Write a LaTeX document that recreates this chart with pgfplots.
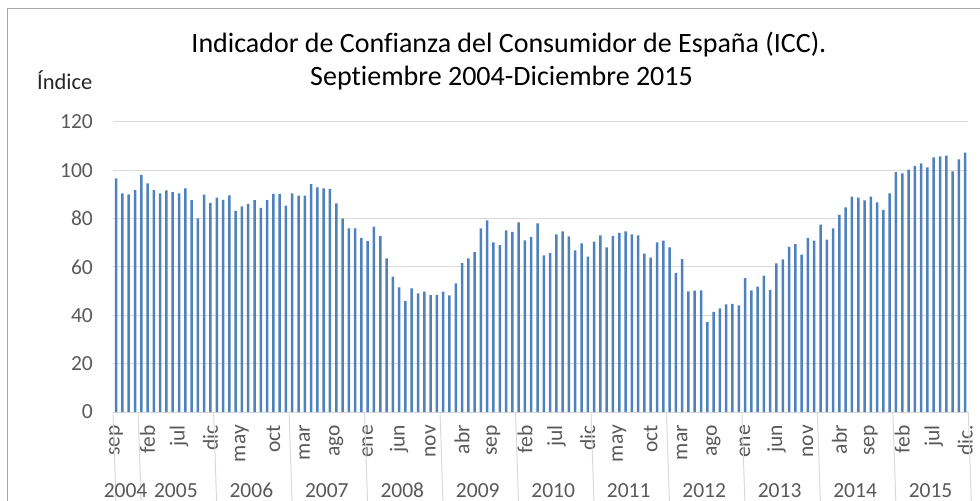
\documentclass[border=0pt]{standalone}
\usepackage{fontspec}
\setmainfont{Carlito}[Ligatures=NoCommon]
\usepackage{pgfplots}
\pgfplotsset{compat=1.18}
\definecolor{barblue}{HTML}{4F81BD}
\definecolor{gridgray}{HTML}{D9D9D9}
\definecolor{txtgray}{HTML}{595959}
\definecolor{framegray}{HTML}{A6A6A6}
\newcommand{\tickfont}{\fontsize{21.5bp}{25bp}\selectfont}
\begin{document}
\begin{tikzpicture}
\path[use as bounding box] (0,0) rectangle (980bp,501bp);
\draw[framegray, line width=1bp] (7.5bp,-5bp) -- (7.5bp,492.5bp) -- (990bp,492.5bp);
\node[anchor=base, inner sep=0pt, font=\fontsize{28bp}{34bp}\selectfont] at (509bp,448.5bp) {Indicador de Confianza del Consumidor de España (ICC).};
\node[anchor=base, inner sep=0pt, font=\fontsize{28bp}{34bp}\selectfont] at (501.5bp,415bp) {Septiembre 2004-Diciembre 2015};
\node[anchor=base west, inner sep=0pt, font=\fontsize{22.5bp}{27bp}\selectfont, text=black!85] at (37bp,411bp) {Índice};
\begin{axis}[
  at={(113bp,89bp)}, anchor=south west,
  scale only axis, width=855.3bp, height=290bp,
  xmin=-0.5, xmax=135.5, ymin=0, ymax=120,
  ytick={0,20,...,120},
  xtick={0,5,...,135},
  xticklabels={sep,feb,jul,dic,may,oct,mar,ago,ene,jun,nov,abr,sep,feb,jul,dic,may,oct,mar,ago,ene,jun,nov,abr,sep,feb,jul,dic.},
  axis line style={draw=none},
  major tick length=0pt,
  ymajorgrids, grid style={gridgray, line width=1bp},
  ybar, bar width=2.5bp,
  /pgf/number format/assume math mode=true,
  yticklabel style={font=\tickfont, text=txtgray, anchor=east, inner sep=0pt},
  yticklabel shift=20bp,
  xticklabel style={font=\tickfont, text=txtgray, rotate=90, anchor=east, inner sep=0pt},
  xticklabel shift=13bp,
  clip=false,
]
\addplot[fill=barblue, draw=none] coordinates {
(0,96.7) (1,90.5) (2,90.1) (3,91.8)
(4,98.1) (5,94.6) (6,91.8) (7,90.5) (8,91.7) (9,91.0) (10,90.5) (11,92.5) (12,87.7) (13,80.1) (14,89.9) (15,86.5)
(16,88.7) (17,87.8) (18,89.6) (19,83.2) (20,85.1) (21,86.1) (22,87.7) (23,84.5) (24,87.7) (25,90.3) (26,90.3) (27,85.4)
(28,90.5) (29,89.5) (30,89.5) (31,94.3) (32,92.9) (33,92.5) (34,92.3) (35,86.3) (36,80.0) (37,76.0) (38,76.0) (39,72.0)
(40,70.7) (41,76.7) (42,72.8) (43,63.6) (44,56.0) (45,51.6) (46,45.9) (47,51.2) (48,49.1) (49,49.8) (50,48.4) (51,48.5)
(52,49.8) (53,48.3) (54,53.2) (55,61.6) (56,63.6) (57,66.2) (58,76.0) (59,79.3) (60,70.2) (61,69.0) (62,75.2) (63,74.5)
(64,78.5) (65,71.0) (66,72.5) (67,78.1) (68,64.8) (69,65.7) (70,73.5) (71,74.7) (72,72.7) (73,66.9) (74,69.8) (75,64.3)
(76,70.5) (77,73.1) (78,68.1) (79,72.9) (80,74.1) (81,74.7) (82,73.5) (83,73.1) (84,65.5) (85,63.9) (86,70.2) (87,70.9)
(88,68.1) (89,57.6) (90,63.3) (91,49.9) (92,50.2) (93,50.3) (94,37.2) (95,41.4) (96,42.9) (97,44.5) (98,44.7) (99,44.1)
(100,55.4) (101,50.3) (102,51.9) (103,56.4) (104,50.5) (105,61.5) (106,63.2) (107,68.3) (108,69.5) (109,65.1) (110,72.1) (111,70.9)
(112,77.5) (113,71.3) (114,76.0) (115,81.6) (116,84.7) (117,89.1) (118,88.7) (119,87.6) (120,89.1) (121,86.7) (122,83.6) (123,90.5)
(124,99.3) (125,98.7) (126,100.3) (127,101.8) (128,102.9) (129,101.2) (130,105.4) (131,105.8) (132,106.1) (133,99.6) (134,104.5) (135,107.3)
};
\draw[gridgray, line width=1bp] (axis cs:-0.5,0) -- ++(0,-95bp);
\draw[gridgray, line width=1bp] (axis cs:3.5,0) -- ++(0,-95bp);
\draw[gridgray, line width=1bp] (axis cs:15.5,0) -- ++(0,-95bp);
\draw[gridgray, line width=1bp] (axis cs:27.5,0) -- ++(0,-95bp);
\draw[gridgray, line width=1bp] (axis cs:39.5,0) -- ++(0,-95bp);
\draw[gridgray, line width=1bp] (axis cs:51.5,0) -- ++(0,-95bp);
\draw[gridgray, line width=1bp] (axis cs:63.5,0) -- ++(0,-95bp);
\draw[gridgray, line width=1bp] (axis cs:75.5,0) -- ++(0,-95bp);
\draw[gridgray, line width=1bp] (axis cs:87.5,0) -- ++(0,-95bp);
\draw[gridgray, line width=1bp] (axis cs:99.5,0) -- ++(0,-95bp);
\draw[gridgray, line width=1bp] (axis cs:111.5,0) -- ++(0,-95bp);
\draw[gridgray, line width=1bp] (axis cs:123.5,0) -- ++(0,-95bp);
\draw[gridgray, line width=1bp] (axis cs:135.5,0) -- ++(0,-95bp);
\node[font=\tickfont, text=txtgray, anchor=base, inner sep=0pt] at (axis cs:1.5,0) [yshift=-85.5bp] {2004};
\node[font=\tickfont, text=txtgray, anchor=base, inner sep=0pt] at (axis cs:9.5,0) [yshift=-85.5bp] {2005};
\node[font=\tickfont, text=txtgray, anchor=base, inner sep=0pt] at (axis cs:21.5,0) [yshift=-85.5bp] {2006};
\node[font=\tickfont, text=txtgray, anchor=base, inner sep=0pt] at (axis cs:33.5,0) [yshift=-85.5bp] {2007};
\node[font=\tickfont, text=txtgray, anchor=base, inner sep=0pt] at (axis cs:45.5,0) [yshift=-85.5bp] {2008};
\node[font=\tickfont, text=txtgray, anchor=base, inner sep=0pt] at (axis cs:57.5,0) [yshift=-85.5bp] {2009};
\node[font=\tickfont, text=txtgray, anchor=base, inner sep=0pt] at (axis cs:69.5,0) [yshift=-85.5bp] {2010};
\node[font=\tickfont, text=txtgray, anchor=base, inner sep=0pt] at (axis cs:81.5,0) [yshift=-85.5bp] {2011};
\node[font=\tickfont, text=txtgray, anchor=base, inner sep=0pt] at (axis cs:93.5,0) [yshift=-85.5bp] {2012};
\node[font=\tickfont, text=txtgray, anchor=base, inner sep=0pt] at (axis cs:105.5,0) [yshift=-85.5bp] {2013};
\node[font=\tickfont, text=txtgray, anchor=base, inner sep=0pt] at (axis cs:117.5,0) [yshift=-85.5bp] {2014};
\node[font=\tickfont, text=txtgray, anchor=base, inner sep=0pt] at (axis cs:129.5,0) [yshift=-85.5bp] {2015};
\end{axis}
\end{tikzpicture}
\end{document}
